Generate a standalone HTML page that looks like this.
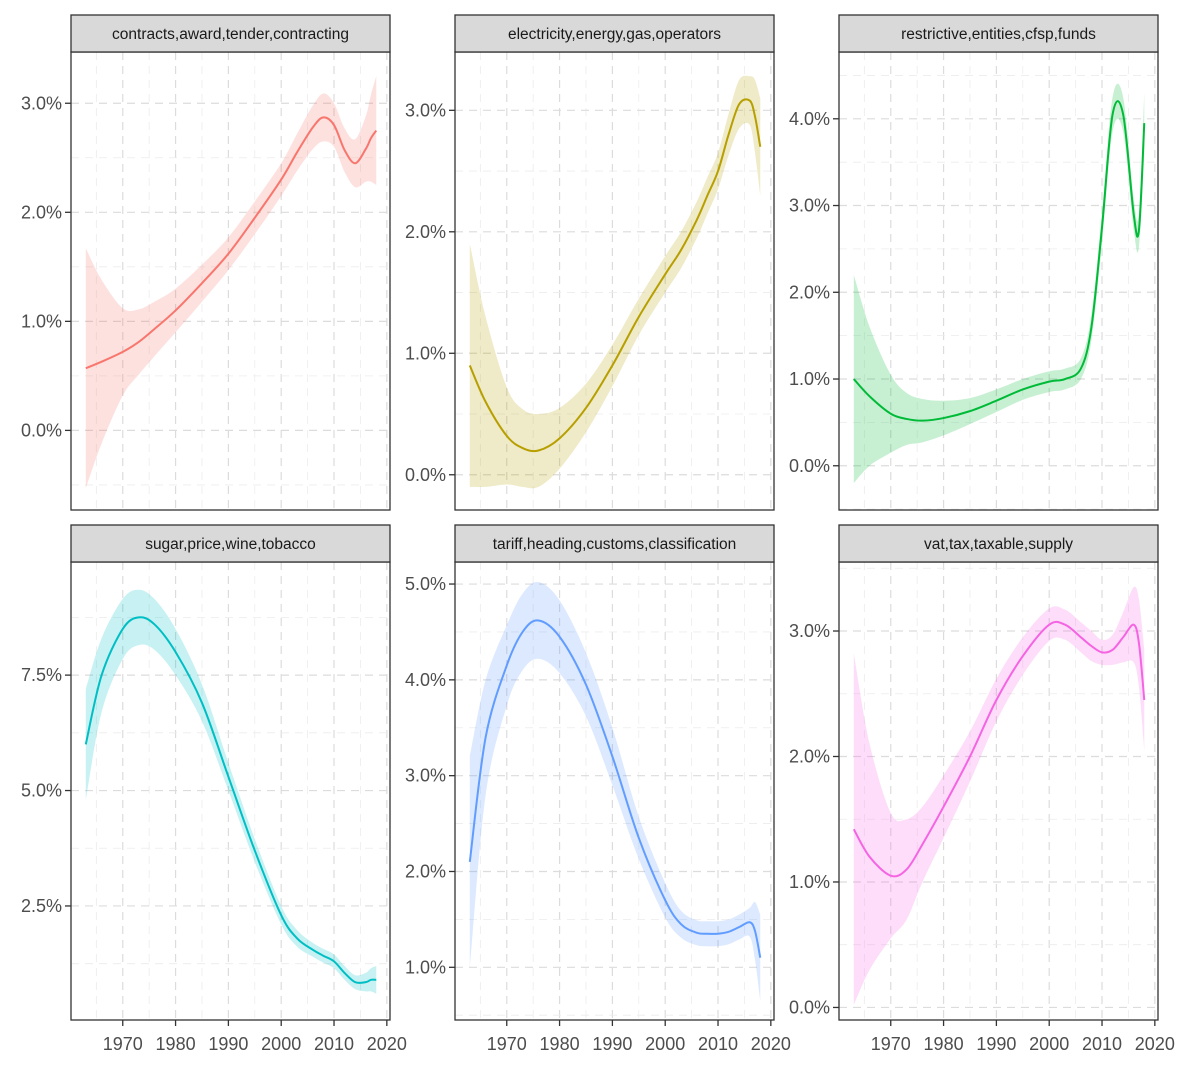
<!DOCTYPE html>
<html><head><meta charset="utf-8"><style>
body{margin:0;background:#fff;width:1181px;height:1062px;overflow:hidden;font-family:"Liberation Sans",Arial,sans-serif}
</style></head><body>
<svg id="chart" width="1181" height="1062" xmlns="http://www.w3.org/2000/svg"></svg>
<script>
const years=[1963,1966,1970,1973,1976,1980,1985,1990,1995,2000,2003,2006,2008,2010,2012,2014,2016,2017,2018];
const titles=["contracts,award,tender,contracting","electricity,energy,gas,operators","restrictive,entities,cfsp,funds","sugar,price,wine,tobacco","tariff,heading,customs,classification","vat,tax,taxable,supply"];
const colors=["#F8766D","#B79F00","#00BA38","#00BFC4","#619CFF","#F564E3"];
const fit1=[0.57,0.63,0.72,0.81,0.93,1.1,1.35,1.62,1.95,2.3,2.55,2.78,2.87,2.8,2.57,2.45,2.58,2.68,2.75];
const se1=[1.1,0.75,0.4,0.3,0.25,0.2,0.17,0.15,0.15,0.15,0.17,0.2,0.22,0.2,0.2,0.22,0.3,0.4,0.5];
const fit2=[0.9,0.6,0.32,0.22,0.2,0.3,0.55,0.9,1.3,1.65,1.85,2.1,2.3,2.5,2.8,3.05,3.08,2.95,2.7];
const se2=[1.0,0.7,0.4,0.32,0.3,0.25,0.2,0.17,0.15,0.15,0.15,0.15,0.15,0.15,0.17,0.2,0.2,0.3,0.4];
const fit3=[1.0,0.8,0.6,0.54,0.52,0.55,0.63,0.75,0.88,0.97,1.0,1.12,1.6,2.75,4.05,4.05,2.9,2.72,3.95];
const se3=[1.2,0.8,0.45,0.3,0.25,0.2,0.15,0.13,0.12,0.12,0.12,0.12,0.15,0.18,0.2,0.2,0.18,0.2,0.35];
const fit4=[6.0,7.5,8.5,8.75,8.6,8.0,6.9,5.3,3.7,2.3,1.8,1.55,1.42,1.3,1.05,0.85,0.85,0.9,0.9];
const se4=[1.2,0.8,0.65,0.6,0.55,0.5,0.4,0.3,0.25,0.2,0.18,0.15,0.15,0.15,0.15,0.15,0.2,0.25,0.3];
const fit5=[2.1,3.4,4.15,4.5,4.62,4.45,3.95,3.2,2.35,1.7,1.45,1.36,1.35,1.35,1.37,1.42,1.47,1.38,1.1];
const se5=[1.1,0.6,0.42,0.4,0.4,0.38,0.33,0.3,0.22,0.18,0.14,0.13,0.13,0.13,0.13,0.13,0.15,0.3,0.45];
const fit6=[1.42,1.2,1.05,1.1,1.3,1.6,2.0,2.45,2.8,3.05,3.05,2.95,2.88,2.83,2.85,2.95,3.05,2.9,2.45];
const se6=[1.4,0.9,0.5,0.4,0.3,0.25,0.2,0.17,0.15,0.13,0.12,0.12,0.12,0.1,0.12,0.2,0.3,0.35,0.4];
const fits=[fit1,fit2,fit3,fit4,fit5,fit6];
const ses=[se1,se2,se3,se4,se5,se6];
const yTicks=[[0,1,2,3],[0,1,2,3],[0,1,2,3,4],[2.5,5,7.5],[1,2,3,4,5],[0,1,2,3]];
const yTickLabels=[["0.0%","1.0%","2.0%","3.0%"],["0.0%","1.0%","2.0%","3.0%"],["0.0%","1.0%","2.0%","3.0%","4.0%"],["2.5%","5.0%","7.5%"],["1.0%","2.0%","3.0%","4.0%","5.0%"],["0.0%","1.0%","2.0%","3.0%"]];
const yDomains=[[-0.73,3.47],[-0.29,3.48],[-0.51,4.77],[0.03,9.95],[0.45,5.23],[-0.10,3.55]];
const xTicks=[1970,1980,1990,2000,2010,2020];
const xDomain=[1960.2,2020.6];

const NS="http://www.w3.org/2000/svg";
const svg=document.getElementById('chart');
function mk(tag,attrs,parent){const e=document.createElementNS(NS,tag);for(const k in attrs)e.setAttribute(k,attrs[k]);(parent||svg).appendChild(e);return e;}
function smooth(pts){let d="M"+pts[0][0]+","+pts[0][1];for(let i=0;i<pts.length-1;i++){const p0=pts[i-1]||pts[i],p1=pts[i],p2=pts[i+1],p3=pts[i+2]||p2;
d+=" C"+(p1[0]+(p2[0]-p0[0])/6)+","+(p1[1]+(p2[1]-p0[1])/6)+" "+(p2[0]-(p3[0]-p1[0])/6)+","+(p2[1]-(p3[1]-p1[1])/6)+" "+p2[0]+","+p2[1];}return d;}
const lefts=[71,455,839],W=319,rowsTop=[15,525],stripH=37,plotH=458;
for(let p=0;p<6;p++){
  const L=lefts[p%3],row=Math.floor(p/3),sT=rowsTop[row],pT=sT+stripH,pB=pT+plotH;
  const g=mk('g',{});
  
  
  const x=v=>L+(v-xDomain[0])/(xDomain[1]-xDomain[0])*W;
  const [d0,d1]=yDomains[p];
  const y=v=>pB-(v-d0)/(d1-d0)*plotH;
  for(let yr=1965;yr<=2020;yr+=5){const maj=yr%10===0;mk('line',{x1:x(yr),x2:x(yr),y1:pT,y2:pB,stroke:maj?'#dcdcdc':'#ececec','stroke-width':maj?1.2:0.8,'stroke-dasharray':'8,6'},g);}
  const yt=yTicks[p],step=yt[1]-yt[0];
  for(let v=yt[0]-step;v<=d1+step;v+=step/2){if(v<d0||v>d1)continue;const maj=Math.abs((v-yt[0])/step-Math.round((v-yt[0])/step))<1e-6;
    mk('line',{x1:L,x2:L+W,y1:y(v),y2:y(v),stroke:maj?'#dcdcdc':'#ececec','stroke-width':maj?1.2:0.8,'stroke-dasharray':'8,6'},g);}
  const fit=fits[p],se=ses[p];
  const up=years.map((yr,i)=>[x(yr),y(fit[i]+se[i])]);
  const lo=years.map((yr,i)=>[x(yr),y(fit[i]-se[i])]).reverse();
  const clip=mk('clipPath',{id:'c'+p},g);mk('rect',{x:L,y:pT,width:W,height:plotH},clip);
  const band=mk('path',{d:smooth(up)+" L"+smooth(lo).slice(1)+" Z",fill:colors[p],'fill-opacity':0.22,'clip-path':'url(#c'+p+')'},g);
  
  
  const line=mk('path',{d:smooth(years.map((yr,i)=>[x(yr),y(fit[i])])),fill:'none',stroke:colors[p],'stroke-width':2,'clip-path':'url(#c'+p+')'},g);
  
  
  mk('rect',{x:L,y:pT,width:W,height:plotH,fill:'none',stroke:'#333','stroke-width':1.3},g);
  const strip=mk('rect',{x:L,y:sT,width:W,height:stripH,fill:'#d9d9d9',stroke:'#333','stroke-width':1.3},g);
  
  
  const st=mk('text',{x:L+W/2,y:sT+24,'text-anchor':'middle','font-size':15.5,fill:'#1a1a1a'},g);st.textContent=titles[p];
  
  
  yt.forEach((v,i)=>{mk('line',{x1:L-6,x2:L,y1:y(v),y2:y(v),stroke:'#333','stroke-width':1.3},g);
    const t=mk('text',{x:L-9,y:y(v)+6,'text-anchor':'end','font-size':18,fill:'#4d4d4d'},g);t.textContent=yTickLabels[p][i];
    
    });
  if(row===1){xTicks.forEach(v=>{mk('line',{x1:x(v),x2:x(v),y1:pB,y2:pB+6,stroke:'#333','stroke-width':1.3},g);
    const t=mk('text',{x:x(v),y:pB+30,'text-anchor':'middle','font-size':18,fill:'#4d4d4d'},g);t.textContent=v;
    
    });}
}
</script>
</body></html>
